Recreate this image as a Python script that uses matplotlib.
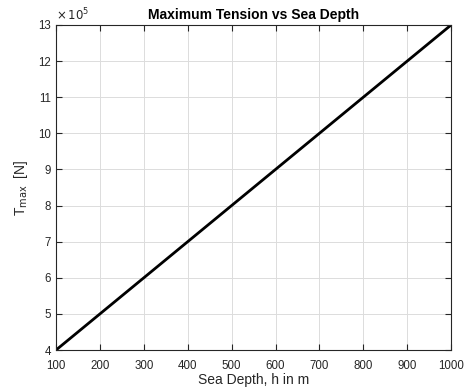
import numpy as np
import matplotlib
matplotlib.use("Agg")
import matplotlib.pyplot as plt

plt.rcParams['font.family'] = ['Liberation Sans', 'DejaVu Sans']

# Sea depth (m) and maximum tension (N)
depth = [100, 200, 300, 400, 500, 600, 700, 800, 900, 1000]
tension = [4.0e5, 5.0e5, 6.0e5, 7.0e5, 8.0e5, 9.0e5, 10.0e5, 11.0e5, 12.0e5, 13.0e5]

xticks = [100, 200, 300, 400, 500, 600, 700, 800, 900, 1000]
yticks = [4, 5, 6, 7, 8, 9, 10, 11, 12, 13]

fig = plt.figure(figsize=(4.7, 3.89), dpi=100)
ax = fig.add_axes([0.119, 0.100, 0.841, 0.836])

ax.plot(depth, np.array(tension) / 1e5, color='black', linewidth=2)

ax.set_xlim(100, 1000)
ax.set_ylim(4, 13)
ax.set_xticks(xticks)
ax.set_yticks(yticks)
ax.grid(True, color='#dcdcdc', linewidth=0.7)
ax.set_axisbelow(True)
ax.tick_params(direction='in', length=4, width=0.8, labelsize=8.3,
               colors='#262626', top=True, right=True, labeltop=False, labelright=False)
ax.tick_params(axis='x', pad=7)
for s in ax.spines.values():
    s.set_color('#262626')
    s.set_linewidth(0.8)

ax.text(0.0, 1.005, r'$\times\,10^5$', transform=ax.transAxes, fontsize=8.5,
        color='#262626', ha='left', va='bottom')
ax.set_title('Maximum Tension vs Sea Depth', fontsize=10, fontweight='bold', pad=4)
ax.set_xlabel('Sea Depth, h in m', fontsize=10, color='#262626', labelpad=0.5)
ax.set_ylabel(r'T$_{\mathrm{max}}$  [N]', fontsize=10, color='#262626', labelpad=6)

fig.savefig('out.png', dpi=100)
